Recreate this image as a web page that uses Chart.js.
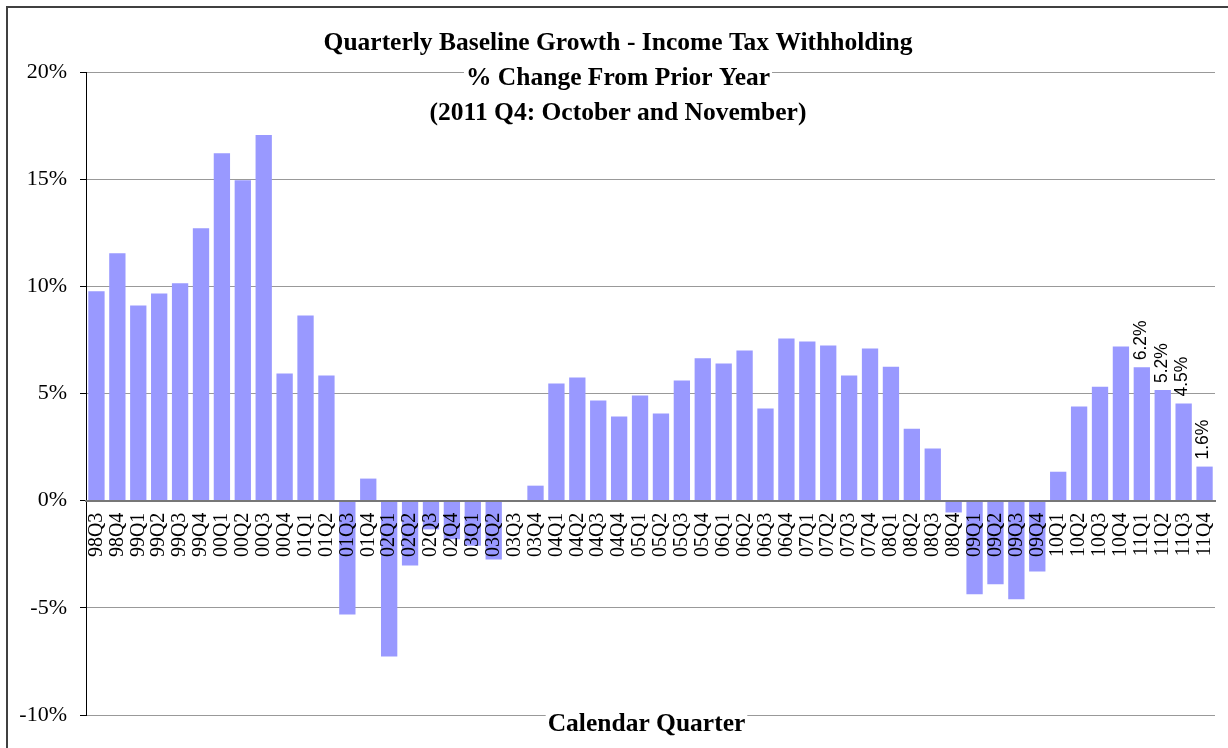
<!DOCTYPE html>
<html><head><meta charset="utf-8">
<style>html,body{margin:0;padding:0;background:#fff;overflow:hidden}#wrap{position:absolute;left:0;top:0;width:1228px;height:748px}</style>
<script src="https://cdn.jsdelivr.net/npm/chart.js@4/dist/chart.umd.min.js"></script>
</head><body><div id="wrap"><canvas id="c" width="1228" height="748"></canvas></div>
<script>
const quarters = ['98Q3','98Q4','99Q1','99Q2','99Q3','99Q4','00Q1','00Q2','00Q3','00Q4','01Q1','01Q2','01Q3','01Q4','02Q1','02Q2','02Q3','02Q4','03Q1','03Q2','03Q3','03Q4','04Q1','04Q2','04Q3','04Q4','05Q1','05Q2','05Q3','05Q4','06Q1','06Q2','06Q3','06Q4','07Q1','07Q2','07Q3','07Q4','08Q1','08Q2','08Q3','08Q4','09Q1','09Q2','09Q3','09Q4','10Q1','10Q2','10Q3','10Q4','11Q1','11Q2','11Q3','11Q4'];
const growth = [9.77,11.54,9.11,9.67,10.14,12.71,16.21,14.95,17.06,5.93,8.64,5.84,-5.31,1.03,-7.27,-3.02,-1.34,-1.80,-2.10,-2.74,0.0,0.70,5.47,5.75,4.67,3.93,4.91,4.07,5.61,6.64,6.40,7.01,4.30,7.57,7.43,7.24,5.84,7.10,6.25,3.36,2.43,-0.55,-4.37,-3.90,-4.60,-3.30,1.35,4.39,5.32,7.19,6.22,5.16,4.53,1.59];
const labeledQuarters = ['11Q1','11Q2','11Q3','11Q4'];
const titleLines = ['Quarterly Baseline Growth - Income Tax Withholding','% Change From Prior Year','(2011 Q4: October and November)'];
const xAxisTitle = 'Calendar Quarter';
const yMin = -10, yMax = 20, yStep = 5;

const serif = '"Liberation Serif", "Times New Roman", serif';
const sans = '"Liberation Sans", Arial, sans-serif';

const framePlugin = {
  id: 'frame',
  beforeDraw(chart) {
    const ctx = chart.ctx;
    ctx.save();
    ctx.fillStyle = '#fff';
    ctx.fillRect(0, 0, chart.width, chart.height);
    ctx.strokeStyle = '#404040';
    ctx.lineWidth = 2;
    ctx.strokeRect(7, 7, chart.width + 20, chart.height + 20);
    ctx.restore();
  }
};

const textPlugin = {
  id: 'texts',
  afterDatasetsDraw(chart) {
    const ctx = chart.ctx;
    const meta = chart.getDatasetMeta(0);
    ctx.save();
    ctx.fillStyle = '#000';
    ctx.font = '17.5px ' + sans;
    ctx.textAlign = 'left';
    ctx.textBaseline = 'middle';
    quarters.forEach((q, i) => {
      if (!labeledQuarters.includes(q)) return;
      const el = meta.data[i];
      ctx.save();
      ctx.translate(el.x - 1, el.y - 7);
      ctx.rotate(-Math.PI / 2);
      ctx.fillText(growth[i].toFixed(1) + '%', 0, 0);
      ctx.restore();
    });
    ctx.restore();
  },
  afterDraw(chart) {
    const ctx = chart.ctx;
    const area = chart.chartArea;
    ctx.save();
    ctx.font = 'bold 25.5px ' + serif;
    ctx.textAlign = 'center';
    ctx.textBaseline = 'alphabetic';
    const cx = chart.width / 2 + 4;
    const baselines = [50, 85, 119.5];
    titleLines.forEach((t, i) => {
      const w = ctx.measureText(t).width;
      ctx.fillStyle = '#fff';
      ctx.fillRect(cx - w / 2 - 2, baselines[i] - 21, w + 4, 27);
      ctx.fillStyle = '#000';
      ctx.fillText(t, cx, baselines[i]);
    });
    const ax = (area.left + area.right) / 2 - 4;
    const ab = area.bottom + 16;
    const w = ctx.measureText(xAxisTitle).width;
    ctx.fillStyle = '#fff';
    ctx.fillRect(ax - w / 2 - 2, ab - 20, w + 4, 26);
    ctx.fillStyle = '#000';
    ctx.fillText(xAxisTitle, ax, ab);
    ctx.restore();
  }
};

new Chart(document.getElementById('c'), {
  type: 'bar',
  data: {
    labels: quarters,
    datasets: [{
      data: growth,
      backgroundColor: '#9999FF',
      borderWidth: 0,
      barPercentage: 0.78,
      categoryPercentage: 1.0
    }]
  },
  options: {
    responsive: false,
    animation: false,
    devicePixelRatio: 1,
    layout: { padding: { left: 0, right: 13, top: 72, bottom: 33 } },
    plugins: { legend: { display: false }, tooltip: { enabled: false }, title: { display: false } },
    scales: {
      x: {
        position: { y: 0 },
        afterFit(scale) { scale.paddingLeft = 0; scale.paddingRight = 0; },
        grid: { display: false, drawTicks: false },
        border: { display: true, color: '#777777', width: 2, z: 1 },
        ticks: {
          z: 1,
          autoSkip: false,
          maxRotation: 90,
          minRotation: 90,
          padding: 12,
          color: '#000',
          font: { family: serif, size: 20 }
        }
      },
      y: {
        min: yMin,
        max: yMax,
        afterFit(scale) { scale.width = 86; },
        grid: { color: '#999999', lineWidth: 1, tickLength: 6, tickColor: '#000' },
        border: { display: true, color: '#000', width: 1 },
        ticks: {
          stepSize: yStep,
          padding: 13,
          color: '#000',
          font: { family: serif, size: 22 },
          callback: v => v + '%'
        }
      }
    }
  },
  plugins: [framePlugin, textPlugin]
});
</script>
</body></html>
